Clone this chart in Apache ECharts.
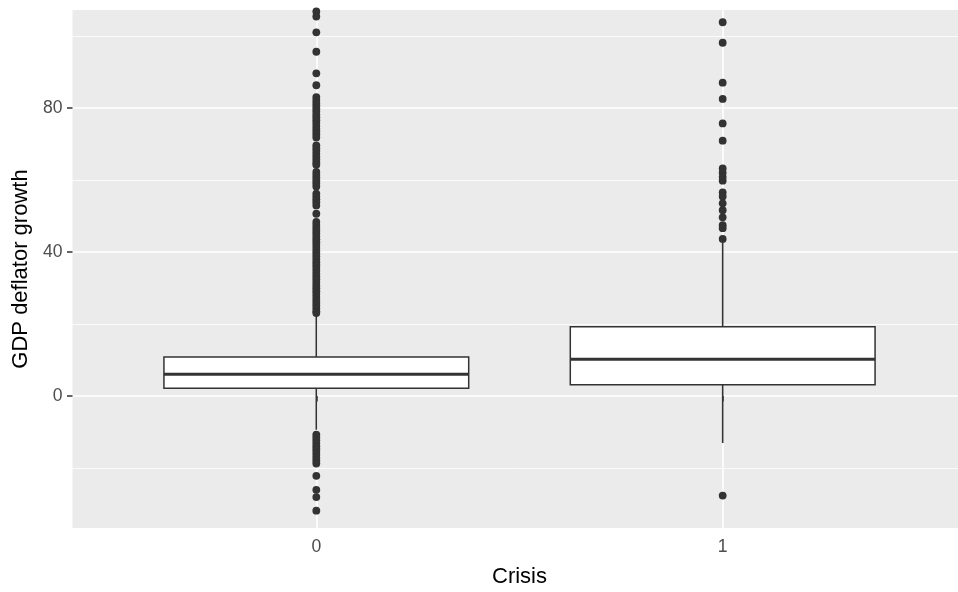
<!DOCTYPE html>
<html>
<head>
<meta charset="utf-8">
<script src="https://cdn.jsdelivr.net/npm/echarts@6/dist/echarts.min.js"></script>
<style>
html, body { margin: 0; padding: 0; background: #fff; }
#chart { width: 958px; height: 592px; }
</style>
</head>
<body>
<div id="chart"></div>
<script>
// box stats per crisis group
const crisis = ['0', '1'];
const whiskerLow = [-9.4, -13.1];
const q1 = [2.1, 3.1];
const median = [6.0, 10.2];
const q3 = [10.8, 19.2];
const whiskerHigh = [22.6, 42.8];

// outliers
const outliers0 = [
    106.8, 105.4, 101.0, 95.6, 89.6, 86.3,
    83.0, 82.2, 81.4, 80.6, 79.8, 79.0, 78.2, 77.4, 76.6, 75.8, 75.0, 74.2, 73.4, 72.6, 71.8,
    69.6, 68.8, 68.0, 67.2, 66.4, 65.6, 64.8, 64.2,
    62.2, 61.4, 60.6, 59.8, 59.0, 58.2,
    56.2, 55.4, 54.6, 53.8, 52.9,
    50.6, 48.3, 47.5, 46.7, 45.9, 45.1, 44.3, 43.5, 42.7, 41.9, 41.1, 40.3, 39.5, 38.7,
    37.9, 37.1, 36.3, 35.5, 34.7, 33.9, 33.1, 32.3, 31.5, 30.7, 29.9, 29.1, 28.3, 27.5,
    26.7, 25.9, 25.1, 24.3, 23.5, 23.0,
    -10.8, -11.6, -12.4, -13.2, -14.0, -14.8, -15.6, -16.4, -17.2, -18.0, -18.8,
    -22.2, -26.1, -28.1, -31.9
];
const outliers1 = [
    103.8, 98.1, 87.0, 82.5, 75.7, 70.9,
    63.2, 62.0, 60.8, 59.8,
    56.5, 55.4, 53.5, 51.6, 49.6, 47.4, 46.6, 43.6,
    -27.7
];

const yMajor = [0, 40, 80];
const yMinor = [-20, 20, 60, 100];
const yMin = -36.7;
const yMax = 107.2;

const font = 'Liberation Sans, Arial, sans-serif';
const ink = '#333333';

const boxData = crisis.map((c, i) => [i + 1, whiskerLow[i], q1[i], median[i], q3[i], whiskerHigh[i]]);
const pointData = outliers0.map(v => [1, v]).concat(outliers1.map(v => [2, v]));

const renderBox = (params, api) => {
    const x = api.value(0);
    const half = api.size([0.75, 0])[0] / 2;
    const pt = v => api.coord([x, v]);
    const lo = pt(api.value(1));
    const b1 = pt(api.value(2));
    const md = pt(api.value(3));
    const b3 = pt(api.value(4));
    const hi = pt(api.value(5));
    const line = { stroke: ink, lineWidth: 1.6 };
    return {
        type: 'group',
        children: [
            { type: 'line', shape: { x1: lo[0], y1: lo[1], x2: b1[0], y2: b1[1] }, style: line },
            { type: 'line', shape: { x1: b3[0], y1: b3[1], x2: hi[0], y2: hi[1] }, style: line },
            { type: 'rect', shape: { x: b3[0] - half, y: b3[1], width: half * 2, height: b1[1] - b3[1] },
              style: { fill: '#ffffff', stroke: ink, lineWidth: 1.5 } },
            { type: 'line', shape: { x1: md[0] - half, y1: md[1], x2: md[0] + half, y2: md[1] },
              style: { stroke: ink, lineWidth: 3 } }
        ]
    };
};

const chart = echarts.init(document.getElementById('chart'));

const option = {
    animation: false,
    grid: {
        left: 72.5, right: -8.5, top: 10, bottom: 64,
        show: true, backgroundColor: '#EBEBEB', borderWidth: 0,
        outerBoundsMode: 'none'
    },
    xAxis: {
        type: 'value',
        min: 0.4,
        max: 2.6,
        name: 'Crisis',
        nameLocation: 'middle',
        nameGap: 38,
        nameTextStyle: { color: '#000', fontSize: 22, fontFamily: font },
        axisLine: { show: false },
        axisTick: { customValues: [1, 2], length: 5.5, lineStyle: { color: ink, width: 1.5 } },
        axisLabel: {
            customValues: [1, 2],
            formatter: v => crisis[Math.round(v) - 1],
            color: '#4D4D4D', fontSize: 17.6, fontFamily: font, margin: 10
        },
        splitLine: { show: true, lineStyle: { color: '#ffffff', width: 1.6 } }
    },
    yAxis: [{
        type: 'value',
        min: yMin,
        max: yMax,
        name: 'GDP deflator growth',
        nameLocation: 'middle',
        nameGap: 38,
        nameTextStyle: { color: '#000', fontSize: 22, fontFamily: font },
        axisLine: { show: false },
        axisTick: { show: true, customValues: yMajor, length: 5.5, lineStyle: { color: ink, width: 1.5 } },
        axisLabel: { customValues: yMajor, color: '#4D4D4D', fontSize: 17.6, fontFamily: font, margin: 10 },
        splitLine: { show: true, lineStyle: { color: '#ffffff', width: 1.6 } }
    }, {
        type: 'value',
        min: yMin,
        max: yMax,
        position: 'left',
        axisLine: { show: false },
        axisTick: { show: false, customValues: yMinor },
        axisLabel: { show: false, customValues: yMinor },
        splitLine: { show: true, lineStyle: { color: '#ffffff', width: 0.8 } }
    }],
    series: [{
        type: 'custom',
        renderItem: renderBox,
        encode: { x: 0, y: [1, 2, 3, 4, 5] },
        data: boxData,
        z: 2
    }, {
        type: 'scatter',
        data: pointData,
        symbol: 'circle',
        symbolSize: 7.8,
        itemStyle: { color: ink, opacity: 1 },
        z: 3
    }]
};

chart.setOption(option);
</script>
</body>
</html>
